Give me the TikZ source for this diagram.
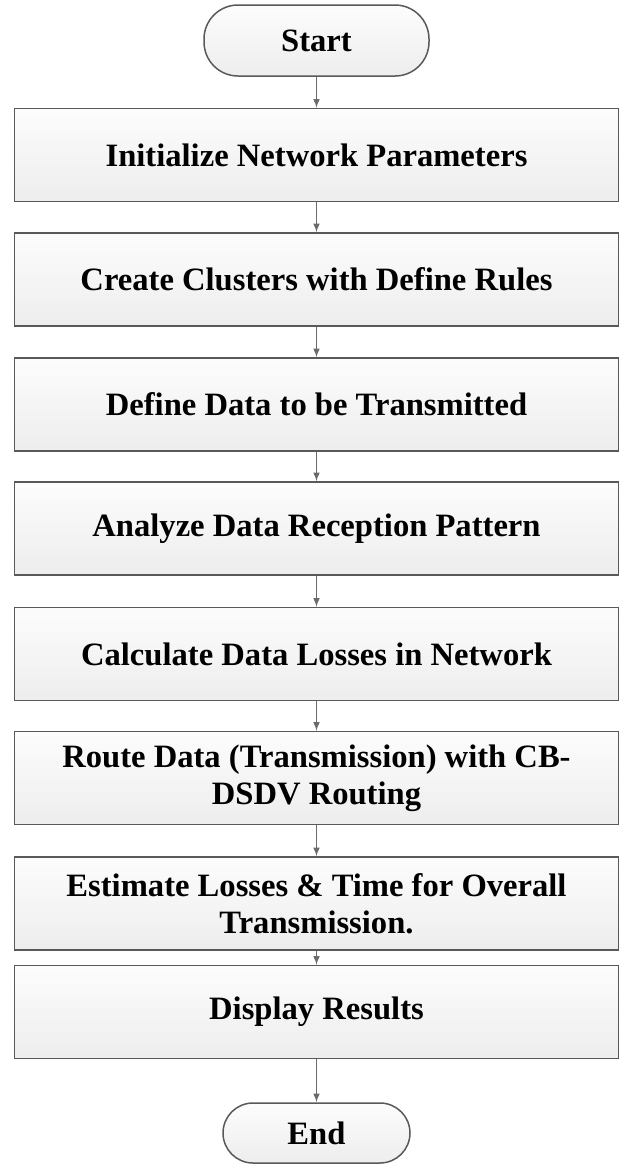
\documentclass[tikz,border=0pt]{standalone}
\usepackage{fontspec}
\setmainfont{Liberation Serif}
\tikzset{>=latex}
\definecolor{cld}{gray}{.35}
\definecolor{cla}{gray}{.42}
\definecolor{clt}{gray}{.99}
\definecolor{clb}{gray}{.93}
\tikzset{
    blk/.style={draw=cld, line width=.75pt, top color=clt, bottom color=clb,
        minimum width=302pt, minimum height=46.5pt, inner sep=0pt, align=center,
        font=\fontsize{16.3}{18.6}\selectfont\bfseries},
    trm/.style={blk, minimum width=#1, rounded corners=17pt},
    arr/.style={->, draw=cla, line width=.5pt}
}

\begin{document}
\begin{tikzpicture}[x=.5pt, y=-.5pt]
    \useasboundingbox(0, 0) rectangle (619, 1164);
    \node[trm=112.5pt, minimum height=35.5pt](st) at (316.5, 40.5){Start};
    \node[blk](b1) at (316.5, 155){Initialize Network Parameters};
    \node[blk](b2) at (316.5, 279.5){Create Clusters with Define Rules};
    \node[blk](b3) at (316.5, 404.5){Define Data to be Transmitted};
    \node[blk](b4) at (316.5, 528.5){Analyze Data Reception Pattern};
    \node[blk](b5) at (316.5, 654){Calculate Data Losses in Network};
    \node[blk](b6) at (316.5, 778){Route Data (Transmission) with CB-\\DSDV Routing};
    \node[blk](b7) at (316.5, 903.5){Estimate Losses \& Time for Overall\\Transmission.};
    \node[blk](b8) at (316.5, 1012){Display Results};
    \node[trm=93.5pt, minimum height=30pt, rounded corners=15pt](en) at (316.5, 1133){End};
    \draw[arr](st)--(b1);
    \draw[arr](b1)--(b2);
    \draw[arr](b2)--(b3);
    \draw[arr](b3)--(b4);
    \draw[arr](b4)--(b5);
    \draw[arr](b5)--(b6);
    \draw[arr](b6)--(b7);
    \draw[arr](b7)--(b8);
    \draw[arr](b8)--(en);
\end{tikzpicture}
\end{document}
